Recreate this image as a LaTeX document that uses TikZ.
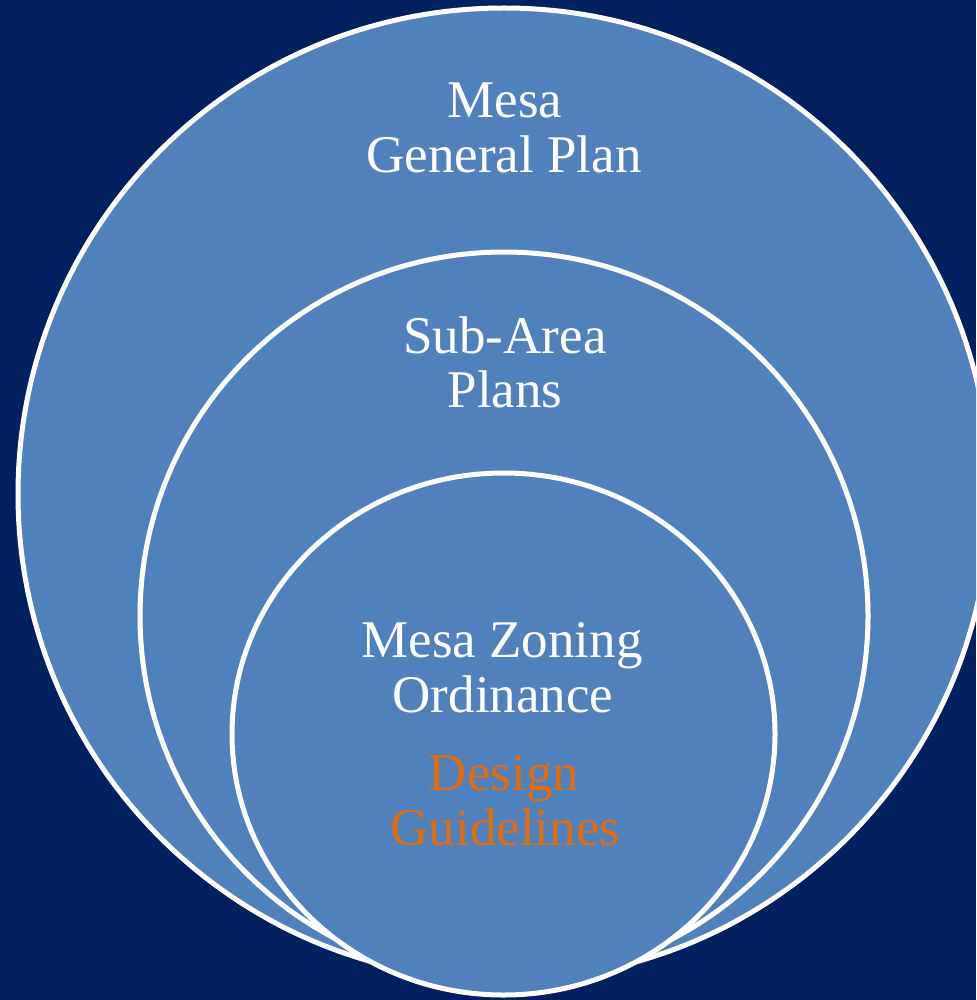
\documentclass[tikz,border=0pt]{standalone}
\usepackage{fontspec}
\setmainfont{Liberation Serif}
\definecolor{navy}{RGB}{0,32,96}
\definecolor{ringfill}{RGB}{79,129,189}
\definecolor{accentorange}{RGB}{228,108,10}
\begin{document}
\begin{tikzpicture}[x=1pt,y=-1pt,
  ring/.style={fill=ringfill,draw=white,line width=5pt},
  label/.style={text=white,font=\fontsize{53}{55}\selectfont,align=center,anchor=base,inner sep=0pt},
  accentlabel/.style={label,text=accentorange}]
  % page and background
  \useasboundingbox (0,0) rectangle (976,1000);
  \clip (0,0) rectangle (976,1000);
  \fill[navy] (0,0) rectangle (976,1000);
  % nested rings, outermost first
  \draw[ring] (504,494) circle[radius=486];
  \draw[ring] (504,616) circle[radius=364];
  \draw[ring] (503.5,734) ellipse[x radius=271.5,y radius=261];
  % labels
  \node[label] (gp1) at (505,118) {Mesa};
  \node[label] (gp2) at (504,173) {General Plan};
  \node[label] (sa1) at (505,353) {Sub-Area};
  \node[label] (sa2) at (505,407) {Plans};
  \node[label] (zo1) at (502,657) {Mesa Zoning};
  \node[label] (zo2) at (503,712) {Ordinance};
  \node[accentlabel] (dg1) at (504,790) {Design};
  \node[accentlabel] (dg2) at (505.5,845) {Guidelines};
\end{tikzpicture}
\end{document}
